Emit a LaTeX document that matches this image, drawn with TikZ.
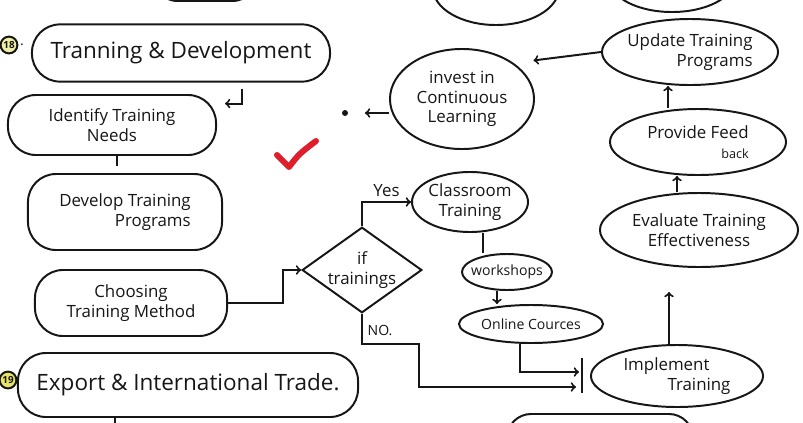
\documentclass[tikz,border=0pt]{standalone}
\usepackage{fontspec}
\setmainfont{Open Sans}
\usepackage{xcolor}
\usetikzlibrary{shapes.geometric, positioning, calc}
\definecolor{InkBlack}{RGB}{22, 22, 22}
\definecolor{TickRed}{RGB}{222, 30, 44}
\definecolor{MarkYellow}{RGB}{232, 228, 105}

\begin{document}
\begin{tikzpicture}[x=0.025cm, y=-0.025cm, line width=1.4pt, color=InkBlack,
    stage/.style={draw, rectangle, rounded corners=0.7cm, inner sep=0pt, align=center, font=\large},
    oval/.style={draw, ellipse, inner xsep=-0.5cm, inner ysep=-0.2cm, align=center, font=\large},
    flow/.style={->, >=to}]

\useasboundingbox (0,0) rectangle (803,422);
\clip (0,0) rectangle (803,422);

% bits of the neighbouring notes, cut off by the page edge
\draw[rounded corners=0.7cm] (150,-60) rectangle (260,1);
\draw (496,-12) ellipse [x radius=1.575cm, y radius=0.925cm];
\draw (672,-20) ellipse [x radius=1.55cm, y radius=0.8cm];
\draw[rounded corners=0.6cm] (507,414) rectangle (693,480);

% left column
\node[draw, circle, fill=MarkYellow!60, inner sep=0pt, minimum size=0.42cm, font=\scriptsize\bfseries, label={[inner sep=0.5pt]right:.}] (n18) at (9,45) {18};
\node[stage, minimum width=7.45cm, minimum height=1.43cm, font=\fontsize{16}{19}\selectfont] (train) at (181,53) {Tranning \& Development};
\node[stage, minimum width=5.2cm, minimum height=1.5cm] (needs) at (112,125) {Identify Training\\Needs};
\node[stage, minimum width=4.85cm, minimum height=1.9cm, align=right] (develop) at (125,212) {Develop Training\\Programs};
\node[stage, minimum width=4.8cm, minimum height=1.65cm] (method) at (131,303) {Choosing\\Training Method};
\node[draw, circle, fill=MarkYellow, inner sep=0pt, minimum size=0.42cm, font=\scriptsize\bfseries] (n19) at (8,380) {19};
\node[stage, minimum width=8.5cm, minimum height=1.6cm, font=\fontsize{16}{19}\selectfont] (export) at (188,385) {Export \& International Trade.};

% decision and training methods
\node[draw, diamond, aspect=1.4, minimum width=2.9cm, minimum height=2.1cm, inner sep=0pt, align=center, font=\large] (ifdec) at (362,270) {if\\trainings};
\node[oval, minimum width=2.9cm, minimum height=1.5cm] (classroom) at (470,202) {Classroom\\Training};
\node[oval, minimum width=2.25cm, minimum height=0.9cm, font=\normalsize] (workshop) at (507,272) {workshops};
\node[oval, minimum width=3.6cm, minimum height=0.95cm, font=\normalsize] (online) at (531,324) {Online Cources};

% right column
\node[oval, minimum width=4.3cm, minimum height=1.55cm, align=left] (implement) at (677,376) {Implement\\\hspace*{1.1cm}Training};
\node[oval, minimum width=4.95cm, minimum height=1.85cm] (evaluate) at (699,230) {Evaluate Training\\Effectiveness};
\node[oval, minimum width=4.4cm, minimum height=1.65cm, align=right] (feedback) at (698,142) {Provide Feed\\{\small back}};
\node[oval, minimum width=4.4cm, minimum height=1.65cm, align=right] (update) at (690,52) {Update Training\\Programs};
\node[oval, minimum width=3.6cm, minimum height=2.5cm] (invest) at (462,99) {invest in\\Continuous\\Learning};
\node[circle, fill, inner sep=0pt, minimum size=0.15cm] (dot) at (345,113) {};

\draw[TickRed, line width=1.5mm, line cap=round, line join=round] (277,155) -- (289,167) .. controls (299,154) .. (316,141);

\draw[flow] ([shift={(61,6)}]train.south) -- ++(0,15) -- ++(-17,0);
\draw ([xshift=0.125cm]needs.south) -- ++(0,10);
\draw ([xshift=-1.825cm]export.south) -- ++(0,10);

\draw[flow] (method.east) -- ++(55,0) |- (ifdec.west);
\draw[flow] (ifdec.north) |- node[pos=0.75, above, font=\large] {Yes} (classroom.west);
\draw[flow] (ifdec.south) -- node[right, pos=0.55] {NO.} ++(0,30) -- ++(57,0) |- ([shift={(-14,11)}]implement.west);
\draw ([xshift=0.325cm]classroom.south) -- ([xshift=0.325cm]classroom.south |- workshop.north);
\draw[flow] ([xshift=-0.25cm]workshop.south) -- ([xshift=-0.25cm]workshop.south |- online.north);
\draw[flow] ([xshift=-0.275cm]online.south) |- ([shift={(-11,-4)}]implement.west);
\draw (implement.west) ++(-8,-18) -- ++(0,35);

\draw[flow, shorten >=0.6cm] ([xshift=-0.2cm]implement.north) -- ([xshift=-0.2cm]implement.north |- evaluate.south);
\draw[flow] ([xshift=-0.55cm]evaluate.north) -- ([xshift=-0.55cm]evaluate.north |- feedback.south);
\draw[flow] ([xshift=-0.75cm]feedback.north) -- ([xshift=-0.75cm]feedback.north |- update.south);
\draw[flow, shorten >=0.5cm] (update.west) -- (invest.north east);
\draw[flow] (dot -| invest.west) -- ([xshift=0.4cm]dot.east);

\end{tikzpicture}
\end{document}
